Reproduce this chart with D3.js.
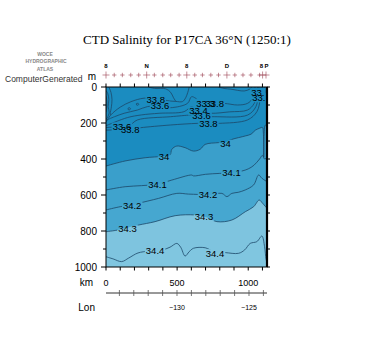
<!DOCTYPE html>
<html><head><meta charset="utf-8">
<script src="https://cdn.jsdelivr.net/npm/d3@7"></script>
<style>body{margin:0;background:#fff}svg{display:block}</style>
</head><body><svg id="c" width="375" height="350"></svg>
<script>
// ---------- data (distance km, depth m) ----------
const levels = [34.0, 34.1, 34.2, 34.3, 34.4];
const c34_0 = [[0,439],[134,411],[275,393],[400,385],[450,378],[463,346],[498,328],[556,337],[615,356],[662,346],[697,319],[791,309],[840,305],[885,291],[979,272],[1020,262],[1050,240],[1077,230],[1100,225],[1106,250],[1109,390],[1112,260],[1118,215],[1132,205]];
const c34_1 = [[0,572],[134,554],[250,548],[360,540],[463,517],[603,489],[615,494],[700,485],[800,480],[880,478],[955,467],[1000,455],[1040,435],[1080,400],[1100,380],[1115,400],[1132,390]];
const c34_2 = [[0,683],[100,665],[180,655],[228,646],[369,619],[498,591],[580,595],[650,597],[720,600],[815,591],[850,609],[885,591],[930,585],[979,572],[1038,544],[1073,489],[1096,507],[1132,526]];
const c34_3 = [[0,804],[80,795],[150,782],[228,767],[345,748],[486,715],[627,711],[700,722],[780,748],[885,739],[979,693],[1038,665],[1077,628],[1101,646],[1132,674]];
const c34_4 = [[0,943],[50,955],[110,970],[160,950],[225,922],[300,912],[392,906],[450,890],[498,869],[525,890],[556,939],[585,915],[615,896],[697,893],[760,915],[838,920],[932,924],[975,905],[1014,869],[1061,859],[1096,828],[1115,887],[1125,955],[1132,975]];
const mainLines = [c34_0, c34_1, c34_2, c34_3, c34_4];
// near-surface isohalines (33.x) and small features
const upperQ = [[0,195],[33,156],[100,112],[174,82],[268,62],[350,66],[408,72],[450,78],[491,80],[538,81],[560,60],[575,30],[585,0]];
const upperV = [[300,0],[340,8],[420,10],[455,30],[475,60],[491,80]];
const upperP = [[0,185],[60,165],[127,146],[221,128],[291,109],[380,107],[455,115],[573,91],[601,54],[631,63],[667,91],[750,93],[831,91],[925,100],[995,91],[1031,63],[1042,26],[1048,0]];
const upperR = [[0,215],[150,170],[250,155],[373,146],[549,137],[601,109],[624,119],[650,135],[737,146],[870,138],[995,128],[1042,91],[1061,35],[1066,0]];
const upperS = [[0,225],[68,222],[162,215],[221,183],[455,165],[592,156],[620,156],[672,163],[761,165],[995,156],[1054,109],[1070,44],[1075,0]];
const upperT = [[0,240],[115,236],[180,233],[244,226],[455,211],[643,202],[720,202],[796,202],[995,183],[1061,137],[1085,63],[1092,0]];
const upperU = [[790,0],[830,8],[878,12],[972,22],[1010,12],[1025,0]];
const edgeE1 = [[1100,0],[1106,30],[1112,60],[1132,80]];
const edgeE2 = [[1115,0],[1120,25],[1132,40]];
const edgeL1 = [[0,20],[12,35],[20,70],[15,110],[22,140],[10,170],[0,178]];
const edgeL2 = [[0,50],[6,80],[4,120],[0,140]];
const edgeL3 = [[20,0],[35,30],[42,70],[38,110],[30,150],[33,156]];
const loop1 = [[155,118],[166,115],[172,121],[166,127],[156,125],[155,118]];
const loop2 = [[214,92],[226,91],[230,97],[224,101],[215,100],[214,92]];
const otherLines = [upperQ, upperV, upperP, upperR, upperS, upperT, upperU, edgeE1, edgeE2, edgeL1, edgeL2, edgeL3, loop1, loop2];
const contourLabels = [
  ["34.4",345,911],["34.4",766,926],["34.3",151,785],["34.3",689,722],
  ["34.2",184,661],["34.2",717,600],["34.1",362,544],["34.1",882,478],
  ["34",408,387],["34",840,317],
  ["33.8",350,68],["33.6",380,106],["33.3",700,92],["33.8",765,92],
  ["33.4",650,133],["33.6",672,160],["33.8",720,202],
  ["33.6",112,222],["33.8",170,237],["33.",1068,30],["33.",1075,60]
];
const stationsKm = [0,58,115,174,230,286,340,399,455,514,568,624,678,737,791,850,906,963,1019,1080,1101,1125];
const bigStations = [0,286,568,850,1101,1125];
const stationLabels = [["8",0],["N",286],["8",568],["D",850],["8",1092],["P",1128]];
const depthTicks = [0,200,400,600,800,1000];
const kmTicks = [0,500,1000];
const lonTicks = [-130,-125];
const bandColors = ["#1b8cc0","#3a9fcb","#3fa3cd","#46a7d0","#7ec4df","#80c6e0"];

// ---------- chart ----------
const svg = d3.select("#c");
const x = d3.scaleLinear().domain([0,1132]).range([106,267]);
const y = d3.scaleLinear().domain([0,1000]).range([87,267]);
const lon = d3.scaleLinear().domain([-134.93,-123.75]).range([106,267]);
const X0 = x(0), X1 = x(1132), Y0 = y(0), Y1 = y(1000);

const defs = svg.append("defs");
defs.append("clipPath").attr("id","plot").append("rect")
  .attr("x",X0).attr("y",Y0).attr("width",X1-X0).attr("height",Y1-Y0);
const mask = defs.append("mask").attr("id","lblmask").attr("maskUnits","userSpaceOnUse")
  .attr("x",0).attr("y",0).attr("width",375).attr("height",350);
mask.append("rect").attr("x",0).attr("y",0).attr("width",375).attr("height",350).attr("fill","#fff");

const plot = svg.append("g").attr("clip-path","url(#plot)");
plot.append("rect").attr("x",X0).attr("y",Y0).attr("width",X1-X0).attr("height",Y1-Y0).attr("fill",bandColors[5]);
const curve = d3.curveCatmullRom.alpha(0.5);
const area = d3.area().x(d=>x(d[0])).y0(Y0).y1(d=>y(d[1])).curve(curve);
const line = d3.line().x(d=>x(d[0])).y(d=>y(d[1])).curve(curve);
for (let i = mainLines.length-1; i >= 0; i--) {
  plot.append("path").attr("d",area(mainLines[i])).attr("fill",bandColors[i]);
}
const lg = plot.append("g").attr("mask","url(#lblmask)")
  .attr("fill","none").attr("stroke","#1d4868").attr("stroke-width",0.8);
mainLines.concat(otherLines).forEach(l => lg.append("path").attr("d",line(l)));

const labG = plot.append("g").attr("font-family","Liberation Sans, Arial, sans-serif")
  .attr("font-size","9.5px").attr("fill","#000").attr("text-anchor","middle");
contourLabels.forEach(([t,k,d]) => {
  const tx = labG.append("text").attr("x",x(k)).attr("y",y(d)+3.4).text(t);
  const w = tx.node().getComputedTextLength();
  mask.append("rect").attr("x",x(k)-w/2-1).attr("y",y(d)-4.5).attr("width",w+2).attr("height",9).attr("fill","#000");
});

// frame
svg.append("rect").attr("x",X0).attr("y",Y0).attr("width",X1-X0).attr("height",Y1-Y0)
  .attr("fill","none").attr("stroke","#000").attr("stroke-width",1);
svg.append("line").attr("x1",X1).attr("x2",X1).attr("y1",Y0).attr("y2",Y1).attr("stroke","#000").attr("stroke-width",2.2);

// ticks
const tk = svg.append("g").attr("stroke","#000").attr("stroke-width",1);
d3.range(0,1101,100).forEach(k => {
  tk.append("line").attr("x1",x(k)).attr("x2",x(k)).attr("y1",Y0).attr("y2",Y0-3.5);
  tk.append("line").attr("x1",x(k)).attr("x2",x(k)).attr("y1",Y1).attr("y2",Y1+3.5);
});
d3.range(0,1001,100).forEach(d => {
  const len = d % 200 === 0 ? 5 : 3;
  tk.append("line").attr("x1",X0).attr("x2",X0-len).attr("y1",y(d)).attr("y2",y(d));
  tk.append("line").attr("x1",X1).attr("x2",X1+3).attr("y1",y(d)).attr("y2",y(d));
});

const txt = svg.append("g").attr("font-family","Liberation Sans, Arial, sans-serif").attr("fill","#000");
depthTicks.forEach(d => txt.append("text").attr("x",97).attr("y",y(d)+3.6)
  .attr("text-anchor","end").attr("font-size","10px").text(d));
txt.append("text").attr("x",96).attr("y",80).attr("text-anchor","end").attr("font-size","10px").text("m");
kmTicks.forEach(k => txt.append("text").attr("x",x(k)).attr("y",285.5)
  .attr("text-anchor","middle").attr("font-size","9px").text(k));
txt.append("text").attr("x",93).attr("y",285.5).attr("text-anchor","end").attr("font-size","10px").text("km");

// longitude axis
svg.append("line").attr("x1",X0).attr("x2",X1).attr("y1",293).attr("y2",293).attr("stroke","#333").attr("stroke-width",1);
d3.range(-134,-123,1).forEach(l => svg.append("line").attr("x1",lon(l)).attr("x2",lon(l))
  .attr("y1",290).attr("y2",296).attr("stroke","#555").attr("stroke-width",0.8));
lonTicks.forEach(l => txt.append("text").attr("x",lon(l)).attr("y",310)
  .attr("text-anchor","middle").attr("font-size","7px").text("\u2212" + Math.abs(l)));
txt.append("text").attr("x",95).attr("y",311).attr("text-anchor","end").attr("font-size","10px").text("Lon");

// stations
const st = svg.append("g").attr("stroke","#9a4050").attr("stroke-width",0.6);
stationsKm.forEach(k => {
  const s = bigStations.includes(k) ? 3.5 : 2.2;
  st.append("line").attr("x1",x(k)-s).attr("x2",x(k)+s).attr("y1",75).attr("y2",75);
  st.append("line").attr("x1",x(k)).attr("x2",x(k)).attr("y1",75-s).attr("y2",75+s);
});
stationLabels.forEach(([t,k]) => txt.append("text").attr("x",x(k)).attr("y",68)
  .attr("text-anchor","middle").attr("font-size","6px").attr("font-weight","bold").text(t));

// title and logo texts
svg.append("text").attr("x",187).attr("y",44).attr("text-anchor","middle")
  .attr("font-family","Liberation Serif, Times New Roman, serif").attr("font-size","13px")
  .text("CTD Salinity for P17CA 36\u00b0N (1250:1)");
const logo = svg.append("g").attr("font-family","Liberation Sans, Arial, sans-serif")
  .attr("font-weight","bold").attr("fill","#888").attr("text-anchor","middle").attr("font-size","5px");
logo.append("text").attr("x",45).attr("y",56).text("WOCE");
logo.append("text").attr("x",46).attr("y",63).text("HYDROGRAPHIC");
logo.append("text").attr("x",45).attr("y",71).text("ATLAS");
svg.append("text").attr("x",5).attr("y",82).attr("font-family","Liberation Sans, Arial, sans-serif")
  .attr("font-size","8.5px").attr("fill","#333").text("ComputerGenerated");
</script></body></html>
